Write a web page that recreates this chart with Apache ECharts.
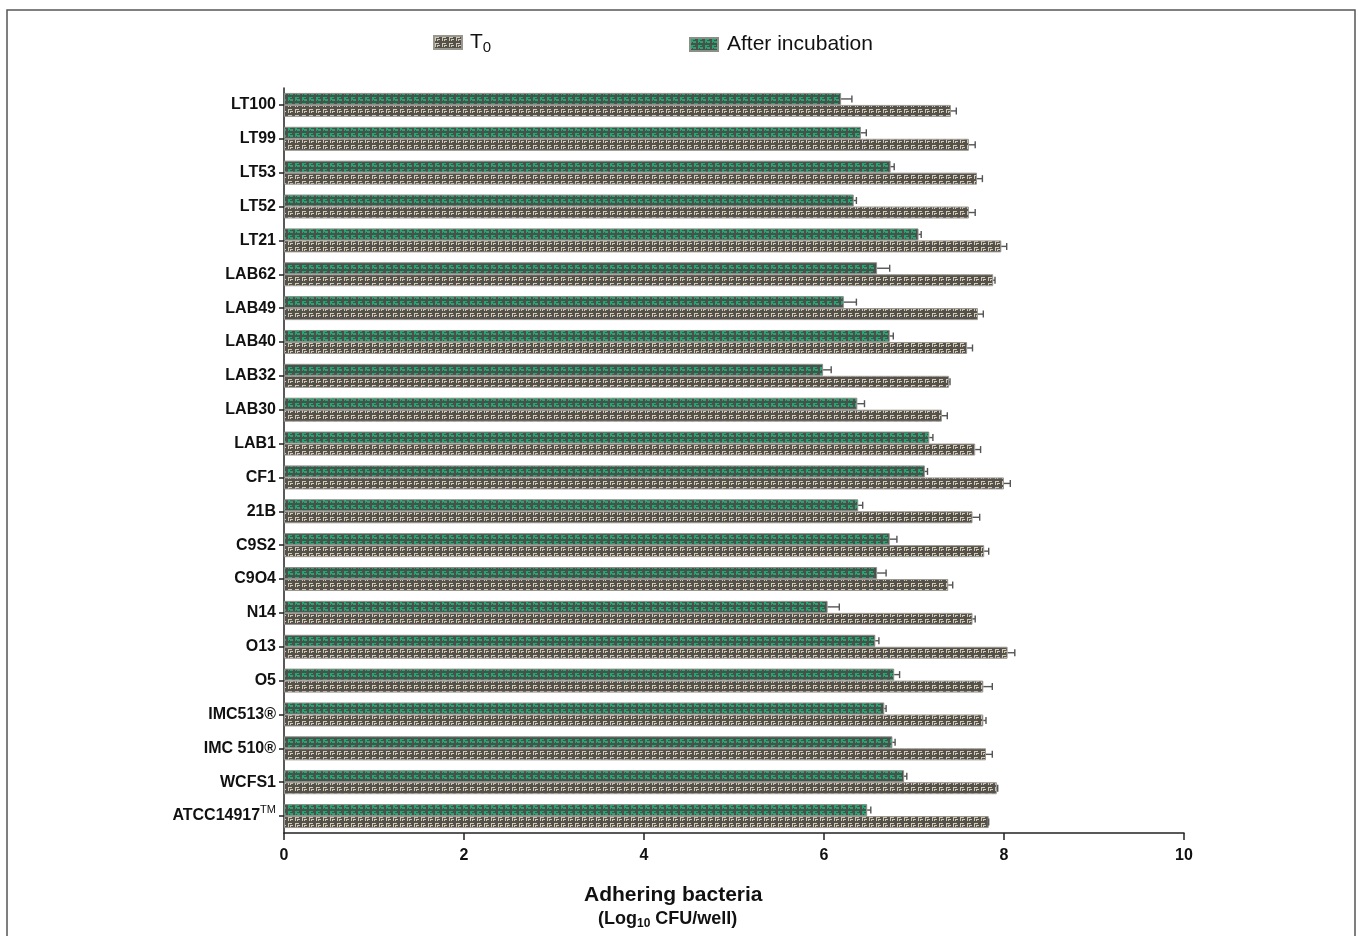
<!DOCTYPE html>
<html>
<head>
<meta charset="utf-8">
<script src="https://cdn.jsdelivr.net/npm/echarts@6/dist/echarts.min.js"></script>
<style>html,body{margin:0;padding:0;background:#fff;}#c{width:1358px;height:936px;}</style>
</head>
<body>
<div id="c"></div>
<script>
// Data (top to bottom)
const categories = ['LT100','LT99','LT53','LT52','LT21','LAB62','LAB49','LAB40','LAB32','LAB30','LAB1','CF1','21B','C9S2','C9O4','N14','O13','O5','IMC513®','IMC 510®','WCFS1','ATCC14917'];
const afterIncubation = [6.19,6.41,6.74,6.33,7.05,6.59,6.22,6.73,5.99,6.37,7.17,7.12,6.38,6.73,6.59,6.04,6.57,6.78,6.67,6.76,6.89,6.48];
const afterErr =        [0.12,0.06,0.04,0.03,0.03,0.14,0.14,0.04,0.09,0.08,0.04,0.03,0.05,0.08,0.10,0.13,0.04,0.06,0.02,0.03,0.03,0.04];
const t0 =              [7.41,7.61,7.70,7.61,7.97,7.88,7.71,7.59,7.39,7.31,7.68,8.00,7.65,7.78,7.38,7.65,8.04,7.77,7.77,7.80,7.92,7.83];
const t0Err =           [0.06,0.07,0.06,0.07,0.06,0.02,0.06,0.06,0.01,0.06,0.06,0.07,0.08,0.05,0.05,0.03,0.08,0.10,0.03,0.07,0.01,0.00];
const xTicks = [0,2,4,6,8,10];

function makePattern(bg, fg, heavy) {
  const c = document.createElement('canvas');
  c.width = 7; c.height = 6;
  const g = c.getContext('2d');
  g.fillStyle = bg; g.fillRect(0,0,7,6);
  g.fillStyle = fg;
  g.fillRect(1,1,4,1);
  g.fillRect(1,2,1,3);
  g.fillRect(3,3,3,1);
  g.fillRect(3,4,1,1);
  if (heavy) { g.fillRect(2,2,1,2); g.fillRect(4,4,2,1); }
  return c;
}
const t0Pat = { image: makePattern('#55514d', '#d3cab2', false), repeat: 'repeat' };
const grPat = { image: makePattern('#4a504c', '#20a871', true), repeat: 'repeat' };

const chart = echarts.init(document.getElementById('c'), null, {renderer:'canvas'});
const BW = 12;
function errRender(sign) {
  return function(params, api) {
    const v = api.value(0), idx = api.value(1), e = api.value(2);
    const p0 = api.coord([v, idx]);
    const p1 = api.coord([v + e, idx]);
    const y = p0[1] + sign * BW / 2;
    return {
      type: 'group',
      children: [
        {type:'line', shape:{x1:p0[0], y1:y, x2:p1[0], y2:y}, style:{stroke:'#555', lineWidth:1.4}},
        {type:'line', shape:{x1:p1[0], y1:y-3.5, x2:p1[0], y2:y+3.5}, style:{stroke:'#555', lineWidth:1.4}}
      ]
    };
  };
}
const fontFam = '"Liberation Sans", Arial, sans-serif';
chart.setOption({
  animation: false,
  backgroundColor: '#fff',
  grid: {left: 284, width: 900, top: 88, height: 745, containLabel: false},
  legend: [
    {data:['T0'], icon:'rect', left: 428, top: 27, itemWidth: 28, itemHeight: 13,
     formatter: () => '{m|T}{s|0}',
     textStyle: {fontFamily: fontFam, fontSize: 21, color:'#111', padding:[0,0,0,3],
       rich: {m:{fontSize:21, fontFamily: fontFam, color:'#111'}, s:{fontSize:15, fontFamily: fontFam, color:'#111', padding:[10,0,0,0]}}}},
    {data:['After incubation'], icon:'rect', left: 684, top: 29, itemWidth: 28, itemHeight: 13,
     textStyle: {fontFamily: fontFam, fontSize: 21, color:'#111', padding:[0,0,0,4]}}
  ],
  xAxis: {
    type: 'value', min: xTicks[0], max: xTicks[xTicks.length-1], interval: 2,
    splitLine: {show:false},
    axisLine: {show:true, lineStyle:{color:'#222', width:1.5}},
    axisTick: {show:true, length:7, lineStyle:{color:'#222', width:1.5}},
    axisLabel: {fontFamily: fontFam, fontWeight:'bold', fontSize:16, color:'#111', margin:15}
  },
  yAxis: {
    type: 'category', data: categories, inverse: true,
    axisLine: {show:true, lineStyle:{color:'#222', width:1.5}},
    axisTick: {show:true, length:5, alignWithLabel:true, lineStyle:{color:'#222', width:1.5}},
    axisLabel: {fontFamily: fontFam, fontWeight:'bold', fontSize:16, color:'#111', margin:8,
      formatter: v => v === 'ATCC14917' ? 'ATCC14917{sup|TM}' : v,
      rich: {sup: {fontSize:11, fontFamily: fontFam, fontWeight:'normal', color:'#111', verticalAlign:'top', padding:[0,0,12,0]}}}
  },
  series: [
    {name:'After incubation', type:'bar', data: afterIncubation, barWidth: BW, barGap: '0%',
     itemStyle:{color: grPat, borderColor:'#8d8d89', borderWidth:1}},
    {name:'T0', type:'bar', data: t0, barWidth: BW, barGap: '0%',
     itemStyle:{color: t0Pat, borderColor:'#9a9690', borderWidth:1}},
    {type:'custom', renderItem: errRender(-1), z: 5,
     data: afterIncubation.map((v,i)=>[v, i, afterErr[i]]), encode:{x:0, y:1}},
    {type:'custom', renderItem: errRender(1), z: 5,
     data: t0.map((v,i)=>[v, i, t0Err[i]]), encode:{x:0, y:1}}
  ],
  graphic: [
    {type:'rect', shape:{x:7, y:10, width:1348, height:940}, style:{fill:'none', stroke:'#555', lineWidth:1.5}, silent:true},
    {type:'text', left: 584, top: 885, style:{text:'Adhering bacteria', font:'bold 21px "Liberation Sans", Arial, sans-serif', fill:'#111'}},
    {type:'text', left: 598, top: 910, style:{text:'(Log{s|10} CFU/well)', font:'bold 18px "Liberation Sans", Arial, sans-serif', fill:'#111',
      rich:{s:{font:'bold 12px "Liberation Sans", Arial, sans-serif', fill:'#111', padding:[9,0,0,0]}}}}
  ]
});
</script>
</body>
</html>
